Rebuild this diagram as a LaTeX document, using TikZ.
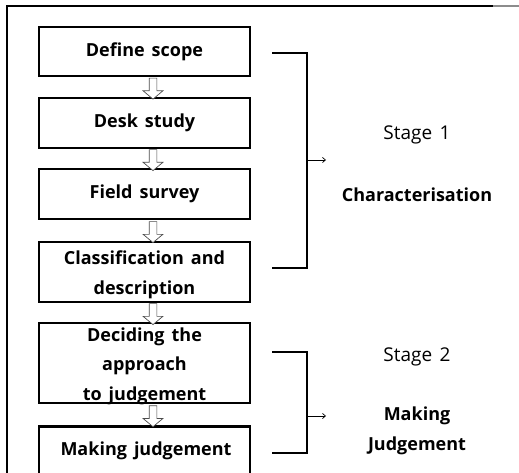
\documentclass[tikz,border=0pt]{standalone}
\usepackage{fontspec}
\setmainfont{Open Sans}[WordSpace={1.5,1,1}]
\usetikzlibrary{shapes.arrows,calc,arrows.meta}
\begin{document}
\begin{tikzpicture}[x=1pt,y=-1pt,
  stepbox/.style={draw,line width=2.6pt,minimum width=211pt,align=center,
    font=\fontsize{18}{29.5}\selectfont\bfseries,inner sep=0pt},
  boxtext/.style={font=\fontsize{18}{29.5}\selectfont\bfseries,align=center},
  darr/.style={shape=single arrow,draw=black!70,line width=0.7pt,fill=white,
    rotate=-90,inner sep=3.5pt,minimum height=21pt,
    single arrow head extend=6pt,single arrow tip angle=100},
  brk/.style={line width=2.3pt},
  stagetxt/.style={font=\fontsize{19}{30}\selectfont,align=center},
  stagename/.style={font=\fontsize{18}{30}\selectfont\bfseries,align=center}]
\clip (0,0) rectangle (519,473);
\fill[white] (0,0) rectangle (519,473);
% frame
\draw[line width=2pt] (7,473) -- (7,6) -- (493,6);
\draw[line width=1.2pt,black!45] (493,6) -- (519,6);
% boxes
\node[stepbox,minimum height=49pt] (b1) at (144.5,51.5) {Define scope};
\node[stepbox,minimum height=50pt] (b2) at (144.5,123) {Desk study};
\node[stepbox,minimum height=50pt] (b3) at (144.5,194) {Field survey};
\node[stepbox,minimum height=60pt] (b4) at (144.5,272) {};
\node[boxtext] (t4) at (144.5,275) {Classification and\\description};
\node[stepbox,minimum height=80pt] (b5) at (144.5,363) {};
\node[boxtext] (t5) at (144.5,366) {Deciding the\\approach\\to judgement};
\node[stepbox,minimum height=60pt,anchor=north] (b6) at (144.5,425) {};
\node[boxtext] (t6) at (146,451) {Making judgement};
% hollow arrows
\node[darr] (a1) at ($($(b1.south)!0.5!(b2.north)$)+(8.5,0)$) {};
\node[darr] (a2) at ($($(b2.south)!0.5!(b3.north)$)+(8.5,0)$) {};
\node[darr] (a3) at ($($(b3.south)!0.5!(b4.north)$)+(8.5,0)$) {};
\node[darr] (a4) at ($($(b4.south)!0.5!(b5.north)$)+(8.5,0)$) {};
\node[darr] (a5) at ($($(b5.south)!0.5!(b6.north)$)+(8.5,0)$) {};
% brackets
\coordinate (k1a) at (272,53);
\coordinate (k1b) at (307,53);
\coordinate (k1c) at (307,268);
\coordinate (k1d) at (272,268);
\coordinate (k1m) at (307,160);
\coordinate (k1e) at (326,160);
\draw[brk] (k1a) -- (k1b) -- (k1c) -- (k1d);
\draw[line width=0.7pt,-{Straight Barb[length=3pt,width=5pt]}] (k1m) -- (k1e);
\coordinate (k2a) at (272,352);
\coordinate (k2b) at (307,352);
\coordinate (k2c) at (307,453);
\coordinate (k2d) at (272,453);
\coordinate (k2m) at (307,416);
\coordinate (k2e) at (326,416);
\draw[brk] (k2a) -- (k2b) -- (k2c) -- (k2d);
\draw[line width=0.7pt,-{Straight Barb[length=3pt,width=5pt]}] (k2m) -- (k2e);
% stage labels
\node[stagetxt] (s1) at (417,135) {Stage 1};
\node[stagename] (n1) at (417,195) {Characterisation};
\node[stagetxt] (s2) at (417,357) {Stage 2};
\node[stagename] (n2) at (417,431) {Making\\Judgement};
\end{tikzpicture}
\end{document}
